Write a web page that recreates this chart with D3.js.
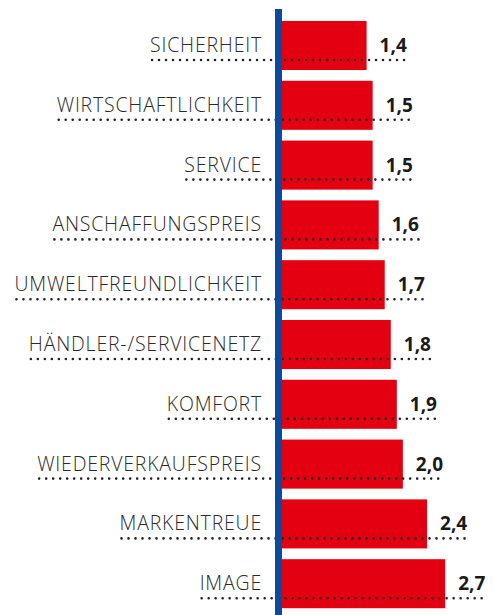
<!DOCTYPE html>
<html>
<head>
<meta charset="utf-8">
<script src="https://cdn.jsdelivr.net/npm/d3@7"></script>
<style>
  body { margin: 0; background: #fff; }
  svg { display: block; }
</style>
</head>
<body>
<div class="chart"></div>
<script>
var categories = ["SICHERHEIT", "WIRTSCHAFTLICHKEIT", "SERVICE", "ANSCHAFFUNGSPREIS",
    "UMWELTFREUNDLICHKEIT", "HÄNDLER-/SERVICENETZ", "KOMFORT", "WIEDERVERKAUFSPREIS",
    "MARKENTREUE", "IMAGE"];
var values = [1.4, 1.5, 1.5, 1.6, 1.7, 1.8, 1.9, 2.0, 2.4, 2.7];
var valueLabels = ["1,4", "1,5", "1,5", "1,6", "1,7", "1,8", "1,9", "2,0", "2,4", "2,7"];

var width = 494, height = 615;
var axisX = 275, axisW = 7;

var svg = d3.select(".chart")
    .append("svg")
    .attr("width", width)
    .attr("height", height);

var data = categories.map(function (c, i) {
    return { cat: c, val: values[i], lab: valueLabels[i] };
});

var x = d3.scaleLinear()
    .domain([0, 3])
    .range([axisX + axisW, axisX + axisW + 181.3]);

var y = d3.scaleBand()
    .domain(categories)
    .range([15.6, 613.6])
    .paddingInner(0.18)
    .paddingOuter(0.09);

var rows = svg.selectAll("g.row")
    .data(data)
    .enter()
    .append("g")
    .attr("class", "row")
    .attr("transform", function (d) { return "translate(0," + y(d.cat) + ")"; });

// bars
rows.append("rect")
    .attr("x", x(0))
    .attr("y", 0)
    .attr("width", function (d) { return x(d.val) - x(0); })
    .attr("height", y.bandwidth())
    .attr("fill", "#e30010");

// category labels
rows.append("text")
    .attr("x", axisX - 13)
    .attr("y", 31)
    .attr("text-anchor", "end")
    .style("font-family", "'Open Sans', sans-serif")
    .style("font-weight", 300)
    .style("font-size", "19.5px")
    .style("letter-spacing", "0.8px")
    .style("fill", "#2a2a2a")
    .text(function (d) { return d.cat; });

// value labels
rows.append("text")
    .attr("x", function (d) { return x(d.val) + 13; })
    .attr("y", 31)
    .style("font-family", "'Open Sans', sans-serif")
    .style("font-weight", 700)
    .style("font-size", "19px")
    .style("fill", "#1a1a1a")
    .text(function (d) { return d.lab; });

// dotted leader lines
rows.each(function (d) {
    var g = d3.select(this);
    var t = g.selectAll("text").nodes();
    var lb = t[0].getBBox();
    var vb = t[1].getBBox();
    g.append("line")
        .attr("x1", lb.x + 2)
        .attr("x2", vb.x + vb.width)
        .attr("y1", 39)
        .attr("y2", 39)
        .attr("stroke", "#222")
        .attr("stroke-width", 2.6)
        .attr("stroke-linecap", "round")
        .attr("stroke-dasharray", "0,7");
});

// blue axis
svg.append("rect")
    .attr("x", axisX)
    .attr("y", 9)
    .attr("width", axisW)
    .attr("height", height - 9)
    .attr("fill", "#0a4b9e");
</script>
</body>
</html>
